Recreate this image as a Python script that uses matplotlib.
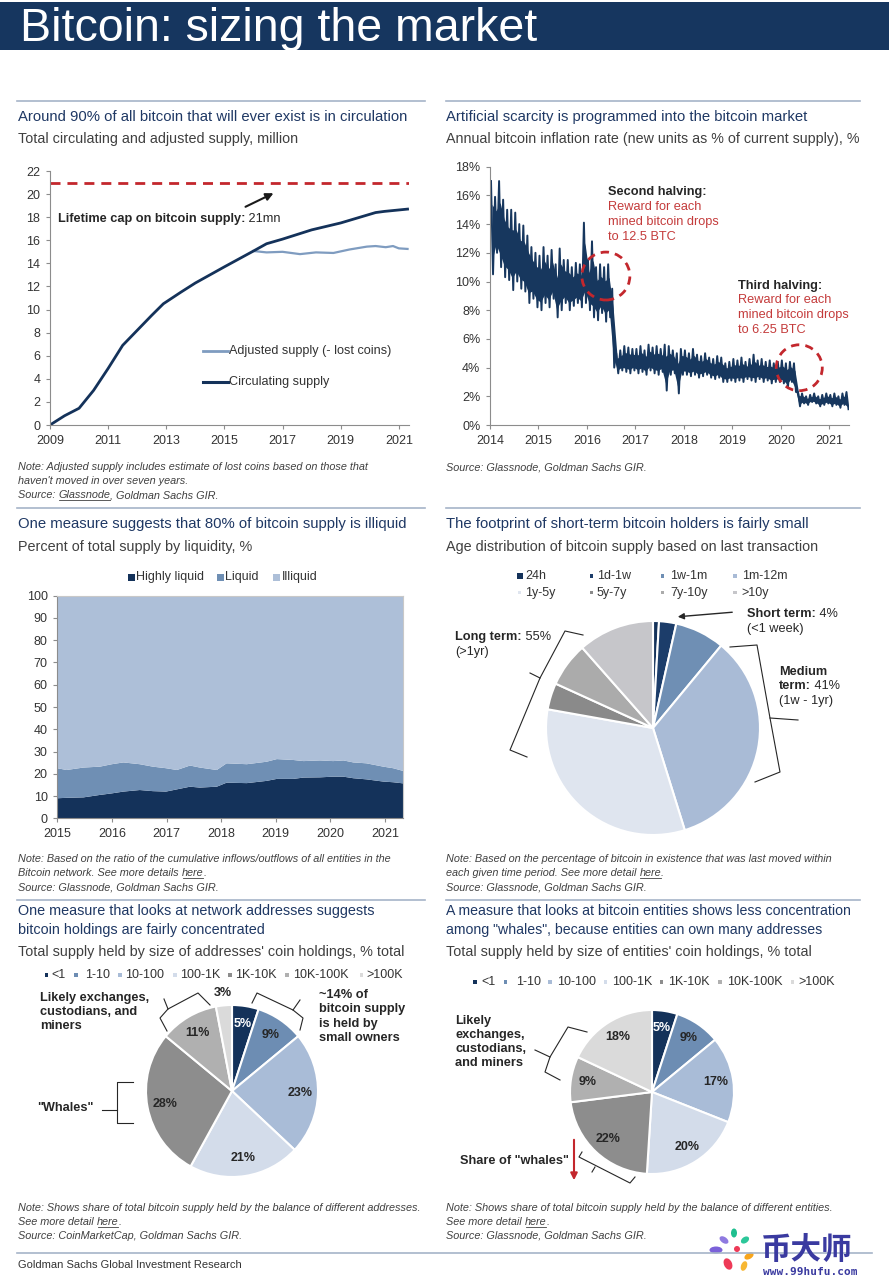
import numpy as np
import matplotlib
matplotlib.use('agg')
import matplotlib.pyplot as plt
from matplotlib.patches import Rectangle, Ellipse
from matplotlib.ticker import FuncFormatter

plt.rcParams['font.family'] = ['Liberation Sans', 'Noto Sans CJK SC', 'DejaVu Sans']

W, H = 889, 1280

## Colours
HEADER = '#16365f'
NAVY = '#14325a'
MID = '#6f8fb4'
LIGHT = '#adbfd8'
ADJ = '#7f9cc0'
RED = '#c3272d'
RED_TXT = '#c43b3b'
TITLE = '#1f3864'
GREY_TXT = '#404040'
DARK = '#262626'
SEP = '#a6b4c8'

## Chart 1: circulating and adjusted supply (million)
supply_years = [2009.0, 2009.5, 2010.0, 2010.5, 2011.0, 2011.5, 2012.0, 2012.5, 2012.9,
                2013.5, 2014.0, 2015.0, 2016.0, 2016.45, 2017.0, 2018.0, 2019.0, 2020.2, 2020.5, 2021.3]
circ_supply = [0.0, 0.8, 1.45, 3.0, 4.9, 6.9, 8.2, 9.5, 10.5,
               11.5, 12.3, 13.7, 15.07, 15.7, 16.1, 16.9, 17.5, 18.4, 18.5, 18.7]
adj_years = [2016.0, 2016.45, 2017.0, 2017.6, 2018.15, 2018.75, 2019.3, 2019.9, 2020.2,
             2020.55, 2020.8, 2021.0, 2021.3]
adj_supply = [15.07, 14.95, 15.0, 14.8, 14.95, 14.9, 15.2, 15.45, 15.5, 15.4, 15.5, 15.3, 15.25]
cap_supply = 21

## Chart 2: annual inflation rate, monthly high / low (%), Jan 2014 - May 2021
infl_hi = [17.0, 15.9, 17.0, 15.7, 15.0, 15.0, 14.8, 14.0, 13.9, 13.2, 12.4, 12.0,
           11.8, 12.4, 11.8, 12.2, 11.2, 12.3, 11.5, 11.5, 11.0, 11.3, 11.2, 14.1,
           11.5, 12.8, 11.0, 11.2, 11.0, 11.2, 9.5, 5.0, 5.2, 5.5, 5.4, 5.3,
           5.3, 5.5, 5.2, 5.6, 5.4, 5.5, 5.3, 5.6, 5.5, 5.2, 5.0, 5.3,
           5.2, 5.0, 5.3, 4.9, 4.8, 5.0, 4.7, 4.6, 4.8, 4.7, 4.3, 4.4,
           4.6, 4.5, 4.7, 4.4, 4.6, 4.9, 4.5, 4.6, 4.4, 4.5, 4.3, 4.4,
           4.5, 4.3, 4.4, 4.3, 2.3, 2.2, 2.0, 2.1, 2.2, 2.0, 2.1, 2.2,
           2.1, 2.2, 2.0, 2.2, 2.3]
infl_lo = [10.5, 12.0, 11.0, 10.3, 10.1, 9.4, 10.0, 9.5, 9.3, 8.5, 8.8, 8.2,
           8.0, 8.5, 8.2, 8.8, 7.5, 8.0, 8.5, 8.0, 8.3, 8.5, 8.2, 8.5,
           8.0, 7.5, 7.3, 7.8, 7.2, 7.5, 4.0, 3.6, 3.8, 3.7, 3.6, 3.8,
           3.6, 3.7, 3.5, 3.8, 3.6, 3.5, 3.7, 2.4, 3.5, 3.6, 2.2, 3.5,
           3.5, 3.4, 3.5, 3.3, 3.4, 3.5, 3.3, 3.2, 3.3, 3.0, 3.0, 3.1,
           3.0, 3.1, 3.0, 3.2, 3.1, 3.0, 3.2, 3.0, 3.1, 2.9, 3.0, 3.0,
           2.9, 2.6, 3.0, 2.3, 1.3, 1.5, 1.4, 1.6, 1.5, 1.3, 1.4, 1.5,
           1.3, 1.4, 1.2, 1.4, 1.1]

## Chart 3: supply by liquidity (%)
liq_years = [2015.0, 2015.17, 2015.48, 2015.78, 2016.0, 2016.21, 2016.51, 2016.75, 2016.99,
             2017.19, 2017.43, 2017.61, 2017.92, 2018.1, 2018.47, 2018.83, 2019.02, 2019.32,
             2019.51, 2019.81, 2020.05, 2020.24, 2020.42, 2020.66, 2020.97, 2021.15, 2021.33]
highly_liquid = [9.0, 9.2, 9.4, 10.5, 11.2, 12.0, 12.7, 12.2, 12.0, 13.0, 14.2, 13.8, 14.2, 16.0,
                 15.8, 16.8, 17.7, 17.7, 18.3, 18.4, 18.7, 18.7, 18.0, 17.5, 16.5, 16.2, 15.7]
liquid = [13.5, 12.5, 13.4, 12.7, 13.1, 13.1, 11.6, 11.0, 10.5, 8.7, 9.5, 9.0, 7.5, 8.7,
          8.5, 8.6, 8.9, 8.5, 7.4, 7.6, 7.0, 7.3, 7.1, 7.2, 6.7, 6.3, 5.6]
liq_labels = ['Highly liquid', 'Liquid', 'Illiquid']

## Chart 4: age distribution (%)
age_labels = ['24h', '1d-1w', '1w-1m', '1m-12m', '1y-5y', '5y-7y', '7y-10y', '>10y']
age_share = [0.9, 2.6, 7.5, 34.2, 32.6, 4.0, 6.7, 11.5]
age_colors = ['#14325a', '#1c3d6a', '#6f8fb4', '#a9bbd6', '#dfe5ef', '#8a8a8a', '#ababab', '#c6c6ca']

## Charts 5 and 6: holdings by size (%)
size_labels = ['<1', '1-10', '10-100', '100-1K', '1K-10K', '10K-100K', '>100K']
addr_share = [5, 9, 23, 21, 28, 11, 3]
entity_share = [5, 9, 17, 20, 22, 9, 18]
size_colors = ['#14325a', '#6d8db3', '#a9bcd7', '#d3dcea', '#8d8d8d', '#b0b0b0', '#dadada']


fig = plt.figure(figsize=(W / 100, H / 100), dpi=100)
fig.patch.set_facecolor('white')


def px_axes(x0, y0, x1, y1):
    return fig.add_axes([x0 / W, 1 - y1 / H, (x1 - x0) / W, (y1 - y0) / H])


def style(ax, box=False):
    for side in ['top', 'right']:
        ax.spines[side].set_visible(box)
    for sp in ax.spines.values():
        sp.set_color('#8c8c8c')
        sp.set_linewidth(0.8)
    ax.tick_params(direction='out', length=3, width=0.8, color='#8c8c8c',
                   labelsize=9, labelcolor='#333333', pad=4)


def pie_axes(cx, cy, r):
    half = r * 1.05
    return px_axes(cx - half, cy - half, cx + half, cy + half)


## Chart 1
ax1 = px_axes(50, 171, 409, 425)
ax1.axhline(cap_supply, color=RED, lw=2, dashes=(3.6, 2.5))
ax1.plot(adj_years, adj_supply, color=ADJ, lw=1.6)
ax1.plot(supply_years, circ_supply, color=NAVY, lw=2.0)
ax1.set_xlim(2009, 2021.35)
ax1.set_ylim(0, 22)
ax1.set_xticks(range(2009, 2022, 2))
ax1.set_yticks(range(0, 23, 2))
style(ax1)

## Chart 2
ax2 = px_axes(490, 166.7, 848.7, 425)
months = np.arange(len(infl_hi))
hi = np.array(infl_hi)
lo = np.array(infl_lo)
tm = 2014 + (months + 0.5) / 12
t = 2014 + np.column_stack([months + 0.25, months + 0.75]).ravel() / 12
v = np.column_stack([hi, lo]).ravel()
# dense core of the daily series, spikes come from the zig-zag line
ax2.fill_between(tm, lo + 0.15 * (hi - lo), lo + 0.75 * (hi - lo), color='#17375e', lw=0)
ax2.plot(t, v, color='#17375e', lw=1.4)
ax2.set_xlim(2014, 2021.4)
ax2.set_ylim(0, 18)
ax2.set_xticks(range(2014, 2022))
ax2.set_yticks(range(0, 19, 2))
ax2.yaxis.set_major_formatter(FuncFormatter(lambda y, _: '%d%%' % y))
style(ax2)
for cx, cy, w, h in [(2016.39, 10.38, 0.99, 3.34), (2020.38, 3.99, 0.95, 3.2)]:
    ax2.add_patch(Ellipse((cx, cy), w, h, fill=False, ec=RED, lw=2,
                          ls=(0, (3, 2.2)), clip_on=False, zorder=5))

## Chart 3
ax3 = px_axes(57.3, 595.7, 403, 818.3)
illiquid = [100 - a - b for a, b in zip(highly_liquid, liquid)]
ax3.stackplot(liq_years, highly_liquid, liquid, illiquid,
              colors=[NAVY, MID, LIGHT], lw=0)
ax3.set_xlim(2015, 2021.33)
ax3.set_ylim(0, 100)
ax3.set_xticks(range(2015, 2022))
ax3.set_yticks(range(0, 101, 10))
style(ax3, box=True)
for side in ['top', 'right']:
    ax3.spines[side].set_color('#c8c8c8')

## Chart 4
ax4 = pie_axes(653, 728, 107)
ax4.pie(age_share, colors=age_colors, startangle=90, counterclock=False,
        wedgeprops=dict(edgecolor='white', linewidth=1.5))
ax4.set_xlim(-1.05, 1.05)
ax4.set_ylim(-1.05, 1.05)


## Charts 5 and 6
def size_pie(ax, share, outside=None):
    wedges, texts, autos = ax.pie(share, colors=size_colors, startangle=90, counterclock=False,
                                  autopct=lambda p: '%.0f%%' % p, pctdistance=0.79,
                                  wedgeprops=dict(edgecolor='white', linewidth=1.5),
                                  textprops=dict(fontsize=9, fontweight='bold', color=DARK))
    autos[0].set_color('white')
    if outside is not None:
        cum = np.cumsum([0] + list(share))
        mid = (cum[outside] + share[outside] / 2) / cum[-1]
        ang = np.deg2rad(90 - 360 * mid)
        autos[outside].set_position((1.14 * np.cos(ang), 1.14 * np.sin(ang)))
    ax.set_xlim(-1.05, 1.05)
    ax.set_ylim(-1.05, 1.05)


ax5 = pie_axes(232, 1091, 86)
size_pie(ax5, addr_share, outside=6)
ax6 = pie_axes(652, 1092, 82)
size_pie(ax6, entity_share)

## Overlay for text, rules and call-outs (pixel coordinates)
ov = fig.add_axes([0, 0, 1, 1])
ov.set_xlim(0, W)
ov.set_ylim(H, 0)
ov.axis('off')
renderer = fig.canvas.get_renderer()


def txt(x, y, s, size=9.2, color=DARK, **kw):
    return ov.text(x, y, s, fontsize=size, color=color, va='center', ha='left', **kw)


def rich(x, y, parts, size=9.2, color=DARK, style='normal'):
    # parts: (text, weight, underline)
    for s, weight, ul in parts:
        tt = txt(x, y, s, size=size, color=color, fontweight=weight, fontstyle=style)
        w = tt.get_window_extent(renderer).width
        if ul:
            ov.plot([x + 1, x + w], [y + 5, y + 5], color=color, lw=0.6)
        x += w


def note(x, y, s, underline=None):
    if underline:
        a, b = s.split(underline, 1)
        rich(x, y, [(a, 'normal', False), (underline, 'normal', True), (b, 'normal', False)],
             size=7.8, color=GREY_TXT, style='italic')
    else:
        txt(x, y, s, size=7.8, color=GREY_TXT, fontstyle='italic')


def rule(x0, x1, y):
    ov.plot([x0, x1], [y, y], color=SEP, lw=1.2)


def line(pts, color=DARK, lw=0.8):
    ov.plot([p[0] for p in pts], [p[1] for p in pts], color=color, lw=lw)


def square(cx, cy, s, c):
    ov.add_patch(Rectangle((cx - s / 2, cy - s / 2), s, s, color=c, lw=0))


# header
ov.add_patch(Rectangle((0, 1.5), W, 48, color=HEADER, lw=0))
ov.text(20, 41, 'Bitcoin: sizing the market', color='white', fontsize=33.5, va='baseline')

# panel 1
rule(17, 425, 101)
txt(18, 117, 'Around 90% of all bitcoin that will ever exist is in circulation', size=10.7, color=TITLE)
txt(18, 139, 'Total circulating and adjusted supply, million', size=10.4, color=GREY_TXT)
rich(58, 219, [('Lifetime cap on bitcoin supply:', 'bold', False), (' 21mn', 'normal', False)])
ov.annotate('', xy=(276, 192), xytext=(243, 208),
            arrowprops=dict(arrowstyle='-|>', color='#1a1a1a', lw=1.5, mutation_scale=11))
line([(203, 351), (228, 351)], color=ADJ, lw=2)
txt(229, 351, 'Adjusted supply (- lost coins)', size=9.1, color='#333333')
line([(203, 382), (228, 382)], color=NAVY, lw=2.2)
txt(229, 382, 'Circulating supply', size=9.1, color='#333333')
note(18, 467, 'Note: Adjusted supply includes estimate of lost coins based on those that')
note(18, 481, "haven't moved in over seven years.")
note(18, 495, 'Source: Glassnode, Goldman Sachs GIR.', underline='Glassnode')

# panel 2
rule(446, 860, 101)
txt(446, 117, 'Artificial scarcity is programmed into the bitcoin market', size=10.7, color=TITLE)
txt(446, 139, 'Annual bitcoin inflation rate (new units as % of current supply), %', size=10.3, color=GREY_TXT)
txt(608, 192, 'Second halving:', fontweight='bold')
for i, s in enumerate(['Reward for each', 'mined bitcoin drops', 'to 12.5 BTC']):
    txt(608, 207.5 + 15 * i, s, color=RED_TXT)
txt(738, 286, 'Third halving:', fontweight='bold')
for i, s in enumerate(['Reward for each', 'mined bitcoin drops', 'to 6.25 BTC']):
    txt(738, 300 + 14.8 * i, s, color=RED_TXT)
note(446, 467, 'Source: Glassnode, Goldman Sachs GIR.')

# panel 3
rule(17, 425, 508)
txt(18, 524, 'One measure suggests that 80% of bitcoin supply is illiquid', size=10.7, color=TITLE)
txt(18, 547, 'Percent of total supply by liquidity, %', size=10.4, color=GREY_TXT)
for sx, tx, lab, c in zip([131.5, 220.5, 276.5], [136.5, 225.5, 281.5], liq_labels, [NAVY, MID, LIGHT]):
    square(sx, 577, 7, c)
    txt(tx, 577, lab, size=9, color='#333333')
note(18, 859, 'Note: Based on the ratio of the cumulative inflows/outflows of all entities in the')
note(18, 873, 'Bitcoin network. See more details here.', underline='here')
note(18, 887, 'Source: Glassnode, Goldman Sachs GIR.')

# panel 4
rule(446, 860, 508)
txt(446, 524, 'The footprint of short-term bitcoin holders is fairly small', size=10.7, color=TITLE)
txt(446, 547, 'Age distribution of bitcoin supply based on last transaction', size=10.4, color=GREY_TXT)
leg_mx = [519.5, 591.7, 662.7, 735]
leg_tx = [525, 597, 670, 741.7]
for i, (lab, c) in enumerate(zip(age_labels, age_colors)):
    row, col = divmod(i, 4)
    square(leg_mx[col], 576 + 16.7 * row, 6 if i == 0 else 3.5, c)
    txt(leg_tx[col], 576 + 16.7 * row, lab, size=9, color='#333333')
rich(747, 614, [('Short term:', 'bold', False), (' 4%', 'normal', False)])
txt(747, 629, '(<1 week)')
ov.annotate('', xy=(675, 617), xytext=(735, 612),
            arrowprops=dict(arrowstyle='-|>', color=DARK, lw=1, mutation_scale=9))
rich(455, 637, [('Long term:', 'bold', False), (' 55%', 'normal', False)])
txt(455, 652, '(>1yr)')
txt(779, 672, 'Medium', fontweight='bold')
rich(779, 686, [('term:', 'bold', False), (' 41%', 'normal', False)])
txt(779, 700.7, '(1w - 1yr)')
line([(583, 635), (565, 631), (540, 678), (510, 750), (527, 757)])
line([(540, 678), (530, 673)])
line([(730, 647), (757, 645), (770, 718), (780, 772), (755, 782)])
line([(770, 718), (798, 720)])
note(446, 859, 'Note: Based on the percentage of bitcoin in existence that was last moved within')
note(446, 873, 'each given time period. See more detail here.', underline='here')
note(446, 887, 'Source: Glassnode, Goldman Sachs GIR.')

# panel 5
rule(17, 425, 900)
txt(18, 911, 'One measure that looks at network addresses suggests', size=10.4, color=TITLE)
txt(18, 930, 'bitcoin holdings are fairly concentrated', size=10.4, color=TITLE)
txt(18, 952, "Total supply held by size of addresses' coin holdings, % total", size=10.4, color=GREY_TXT)
leg5_mx = [46.7, 76, 120, 175, 230, 287, 361.7]
leg5_tx = [51.7, 85, 125, 180, 235, 292.7, 366]
for mx, tx, lab, c in zip(leg5_mx, leg5_tx, size_labels, size_colors):
    square(mx, 975, 3.5, c)
    txt(tx, 975, lab, size=9, color='#333333')
for i, s in enumerate(['Likely exchanges,', 'custodians, and', 'miners']):
    txt(40, 997.7 + 14.3 * i, s, fontweight='bold')
for i, s in enumerate(['~14% of', 'bitcoin supply', 'is held by', 'small owners']):
    txt(319.3, 995 + 14.4 * i, s, fontweight='bold')
txt(36.7, 1108.3, '"Whales"', fontweight='bold')
line([(167, 1031), (160, 1018), (168, 1009), (198, 993), (210, 1005)])
line([(168, 1009), (164, 999)])
line([(252, 1003), (257, 993), (293, 1010), (303, 1018), (300, 1030)])
line([(293, 1010), (300, 1000)])
line([(133, 1082), (117, 1082), (117, 1123), (133, 1123)])
line([(117, 1110), (102, 1110)])
note(18, 1208, 'Note: Shows share of total bitcoin supply held by the balance of different addresses.')
note(18, 1222, 'See more detail here.', underline='here')
note(18, 1236, 'Source: CoinMarketCap, Goldman Sachs GIR.')

# panel 6
rule(446, 860, 900)
txt(446, 911, 'A measure that looks at bitcoin entities shows less concentration', size=10.2, color=TITLE)
txt(446, 930, 'among "whales", because entities can own many addresses', size=10.2, color=TITLE)
txt(446, 952, "Total supply held by size of entities' coin holdings, % total", size=10.4, color=GREY_TXT)
leg6_mx = [475, 505.7, 550, 605.7, 661.7, 720, 792.7]
leg6_tx = [481.7, 516, 556.7, 611.7, 668.3, 726.7, 798.3]
for mx, tx, lab, c in zip(leg6_mx, leg6_tx, size_labels, size_colors):
    square(mx, 982, 3.5, c)
    txt(tx, 982, lab, size=9, color='#333333')
for i, s in enumerate(['Likely', 'exchanges,', 'custodians,', 'and miners']):
    txt(455, 1021 + 13.9 * i, s, fontweight='bold')
line([(587, 1032), (568, 1027), (550, 1057), (545, 1072), (560, 1080)])
line([(550, 1057), (535, 1050)])
txt(460, 1161, 'Share of "whales"', fontweight='bold')
ov.annotate('', xy=(574, 1183), xytext=(574, 1137),
            arrowprops=dict(arrowstyle='-|>', color=RED, lw=1.5, mutation_scale=10))
line([(582, 1152), (579, 1157), (630, 1183), (635, 1177)])
line([(595, 1167), (592, 1172)])
note(446, 1208, 'Note: Shows share of total bitcoin supply held by the balance of different entities.')
note(446, 1222, 'See more detail here.', underline='here')
note(446, 1236, 'Source: Glassnode, Goldman Sachs GIR.')

# footer
rule(17, 872, 1253)
txt(18, 1265, 'Goldman Sachs Global Investment Research', size=8, color='#333333')

# watermark
for (px, py, w, h, a, c) in [(716, 1250, 13, 7, 0, '#7b61d9'), (724, 1240, 10, 6, 35, '#8f7ae0'),
                             (734, 1233, 6, 9, 0, '#1fbf8f'), (745, 1240, 9, 6, -35, '#2cc79a'),
                             (749, 1256, 10, 6, -30, '#f7a51c'), (744, 1266, 6, 10, 20, '#f7b733'),
                             (728, 1264, 8, 12, -25, '#ee3a57'), (737, 1249, 6, 6, 0, '#ee3a57')]:
    ov.add_patch(Ellipse((px, py), w, h, angle=a, color=c, lw=0))
ov.text(761, 1259, '币大师', fontsize=22, color='#3a3aa0', fontweight='bold', va='baseline',
        family=['Noto Sans CJK SC', 'DejaVu Sans'])
ov.text(763, 1272, 'www.99hufu.com', fontsize=8, color='#3a3aa0', fontweight='bold',
        va='center', family=['DejaVu Sans Mono'])

fig.savefig('out.png', dpi=100, facecolor='white')
